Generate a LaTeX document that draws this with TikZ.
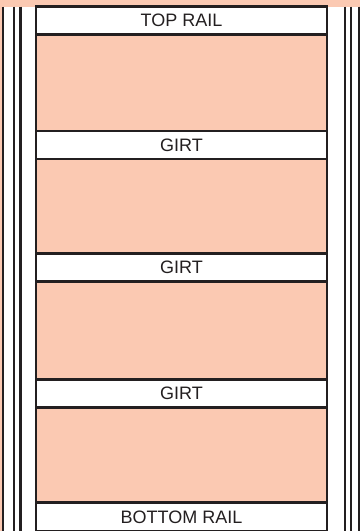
\documentclass[tikz,border=0pt]{standalone}
\usepackage{fontspec}
\setmainfont{Liberation Sans}
\definecolor{peach}{RGB}{251,201,178}
\definecolor{ink}{RGB}{35,31,32}
\begin{document}
\begin{tikzpicture}[x=1pt,y=-1pt,
  rail/.style={draw=ink, line width=2.6pt, fill=white, minimum width=291pt,
    minimum height=28pt, inner sep=0pt, outer sep=0pt,
    font=\fontsize{18}{20}\selectfont, text=ink},
  postline/.style={draw=ink, line width=2.6pt}]
\useasboundingbox (0,0) rectangle (360,531);
\fill[peach] (0,0) rectangle (360,531);
\fill[white] (3,6.5) rectangle (362,535);
\fill[peach] (36,6.5) rectangle (327,535);
% post lines
\coordinate (l1t) at (3,6.5);   \coordinate (l1b) at (3,535);
\coordinate (l2t) at (14,6.5);  \coordinate (l2b) at (14,535);
\coordinate (l3t) at (20.5,6.5);\coordinate (l3b) at (20.5,535);
\coordinate (l4t) at (36,6.5);  \coordinate (l4b) at (36,535);
\coordinate (r1t) at (327,6.5); \coordinate (r1b) at (327,535);
\coordinate (r2t) at (345,6.5); \coordinate (r2b) at (345,535);
\coordinate (r3t) at (351,6.5); \coordinate (r3b) at (351,535);
\coordinate (r4t) at (359,6.5); \coordinate (r4b) at (359,535);
\foreach \a in {l1,l2,l3,l4,r1,r2,r3,r4}{\draw[postline] (\a t) -- (\a b);}
% rails
\node[rail] (toprail) at (181.5,20.6) {TOP RAIL};
\node[rail] (girt1) at (181.5,145) {GIRT};
\node[rail] (girt2) at (181.5,267.6) {GIRT};
\node[rail] (girt3) at (181.5,393.6) {GIRT};
\node[rail, minimum height=29pt] (botrail) at (181.5,517) {BOTTOM RAIL};
\end{tikzpicture}
\end{document}
